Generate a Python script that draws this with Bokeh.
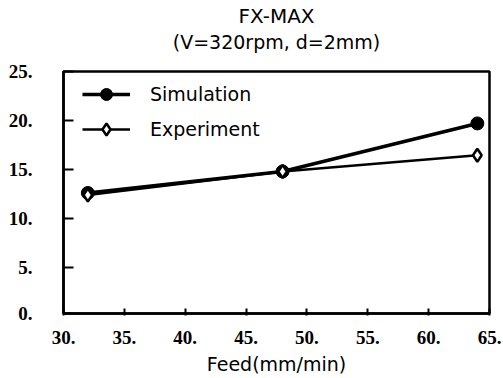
from bokeh.plotting import figure
from bokeh.models import Title, FixedTicker, PrintfTickFormatter, Range1d
from bokeh.embed import file_html
from bokeh.resources import INLINE

feed = [32, 48, 64]
simulation = [12.6, 14.8, 19.7]
experiment = [12.4, 14.8, 16.45]
x_ticks = [30, 35, 40, 45, 50, 55, 60, 65]
y_ticks = [0.3, 5, 10, 15, 20, 25]
y_tick_labels = {0.3: "0."}

p = figure(width=503, height=378, output_backend="svg", toolbar_location=None,
           x_range=Range1d(30, 65), y_range=Range1d(0.3, 25),
           min_border_left=63, min_border_right=14, min_border_bottom=65, min_border_top=10)
p.title.text = ""
p.title.visible = False

spacer = Title(text=" ", text_font_size="15px", standoff=0)
sub = Title(text="(V=320rpm, d=2mm)", align="center", text_font="DejaVu Sans",
            text_font_size="19px", text_font_style="normal", offset=-9, standoff=0,
            text_color="black")
main = Title(text="FX-MAX", align="center", text_font="DejaVu Sans",
             text_font_size="20px", text_font_style="normal", offset=-9, standoff=2,
             text_color="black")
p.add_layout(spacer, "above")
p.add_layout(sub, "above")
p.add_layout(main, "above")

p.grid.visible = False
p.outline_line_color = "black"
p.outline_line_width = 2.5
p.background_fill_color = "white"
p.border_fill_color = "white"

p.xaxis.ticker = FixedTicker(ticks=x_ticks)
p.yaxis.ticker = FixedTicker(ticks=y_ticks)
p.xaxis.formatter = PrintfTickFormatter(format="%d.")
p.yaxis.formatter = PrintfTickFormatter(format="%d.")
p.yaxis.major_label_overrides = y_tick_labels
for ax in (p.xaxis[0], p.yaxis[0]):
    ax.axis_line_width = 2.5
    ax.major_tick_line_width = 2
    ax.minor_tick_line_color = None
    ax.major_label_text_font = "Liberation Serif"
    ax.major_label_text_font_style = "bold"
    ax.major_label_text_font_size = "19px"
    ax.major_label_text_color = "black"
p.xaxis.major_tick_in = 5
p.xaxis.major_tick_out = 2
p.xaxis.major_label_standoff = 15
p.yaxis.major_tick_in = 10
p.yaxis.major_tick_out = 0
p.yaxis.major_label_standoff = 31
p.xaxis.axis_label = "Feed(mm/min)"
p.xaxis.axis_label_text_font = "DejaVu Sans"
p.xaxis.axis_label_text_font_style = "normal"
p.xaxis.axis_label_text_font_size = "19px"
p.xaxis.axis_label_text_color = "black"
p.xaxis.axis_label_standoff = 6

p.line(feed, simulation, line_color="black", line_width=3.5, legend_label="Simulation")
p.scatter(feed, simulation, marker="circle", size=13, fill_color="black",
          line_color="black", legend_label="Simulation")
p.line(feed, experiment, line_color="black", line_width=2.5, legend_label="Experiment")
p.scatter(feed, experiment, marker="diamond", size=13, fill_color="white",
          line_color="black", line_width=2.5, legend_label="Experiment")

lg = p.legend[0]
lg.location = (19, 169)
lg.border_line_color = None
lg.background_fill_alpha = 0
lg.padding = 10
lg.margin = 0
lg.spacing = 5
lg.glyph_width = 48
lg.glyph_height = 30
lg.label_standoff = 20
lg.label_text_font = "DejaVu Sans"
lg.label_text_font_size = "19px"
lg.label_text_color = "black"

open("out.html", "w").write(file_html(p, INLINE))
